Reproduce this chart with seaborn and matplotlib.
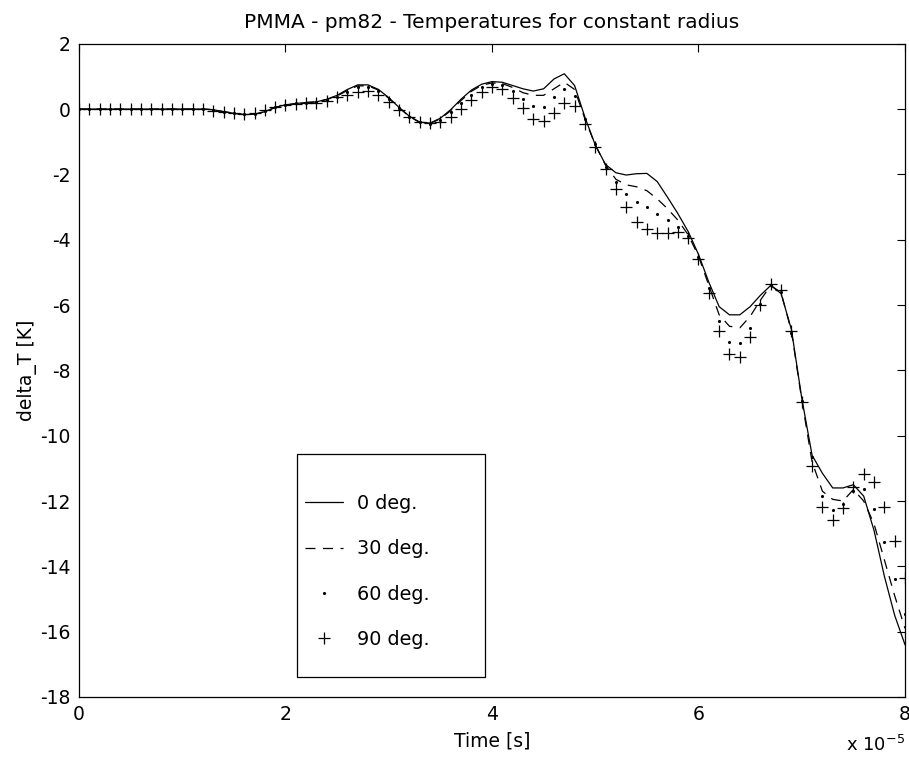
import numpy as np
import pandas as pd
import matplotlib
matplotlib.use("Agg")
import matplotlib.pyplot as plt
from matplotlib.patches import Rectangle
import seaborn as sns

# time samples in units of 1e-5 s
time_e5 = [round(0.1 * i, 1) for i in range(81)]

deg0 = [0.0] * 13 + [
    -0.02, -0.08, -0.13, -0.17, -0.16, -0.08, 0.05, 0.13, 0.17, 0.20,
    0.22, 0.30, 0.42, 0.60, 0.74, 0.74, 0.60, 0.35, 0.05, -0.22,
    -0.40, -0.43, -0.28, -0.02, 0.30, 0.58, 0.76, 0.84, 0.82, 0.72,
    0.62, 0.55, 0.62, 0.92, 1.08, 0.72, -0.25, -1.10, -1.70, -1.95,
    -2.02, -1.98, -1.97, -2.22, -2.70, -3.20, -3.75, -4.45, -5.30, -6.05,
    -6.30, -6.30, -6.05, -5.70, -5.40, -5.65, -6.75, -8.85, -10.60, -11.15,
    -11.60, -11.60, -11.50, -11.85, -12.90, -14.30, -15.50, -16.40]

deg30 = [0.0] * 13 + [
    -0.02, -0.08, -0.13, -0.17, -0.16, -0.08, 0.05, 0.12, 0.16, 0.20,
    0.22, 0.29, 0.40, 0.57, 0.71, 0.71, 0.58, 0.33, 0.04, -0.23,
    -0.41, -0.44, -0.30, -0.05, 0.26, 0.54, 0.73, 0.80, 0.78, 0.66,
    0.50, 0.42, 0.42, 0.62, 0.82, 0.60, -0.30, -1.10, -1.72, -2.15,
    -2.32, -2.38, -2.50, -2.75, -3.05, -3.40, -3.85, -4.50, -5.40, -6.30,
    -6.65, -6.70, -6.35, -5.85, -5.40, -5.62, -6.80, -8.90, -10.80, -11.70,
    -11.95, -12.00, -11.65, -12.00, -12.70, -13.80, -14.90, -15.90]

deg60 = [0.0] * 13 + [
    -0.02, -0.08, -0.12, -0.16, -0.14, -0.06, 0.06, 0.13, 0.17, 0.20,
    0.22, 0.28, 0.38, 0.53, 0.66, 0.67, 0.55, 0.30, 0.03, -0.23,
    -0.41, -0.45, -0.33, -0.10, 0.17, 0.43, 0.66, 0.76, 0.73, 0.55,
    0.31, 0.10, 0.07, 0.36, 0.60, 0.40, -0.32, -1.08, -1.77, -2.24,
    -2.60, -2.85, -3.01, -3.20, -3.40, -3.61, -3.90, -4.52, -5.49, -6.50,
    -7.12, -7.17, -6.71, -5.97, -5.38, -5.60, -6.85, -8.95, -10.66, -11.85,
    -12.27, -12.09, -11.68, -11.64, -12.25, -13.26, -14.40, -15.46]

deg90 = [0.0] * 13 + [
    -0.05, -0.10, -0.13, -0.16, -0.13, -0.03, 0.07, 0.12, 0.14, 0.17,
    0.20, 0.25, 0.36, 0.43, 0.53, 0.55, 0.43, 0.22, -0.03, -0.25,
    -0.41, -0.44, -0.40, -0.25, -0.01, 0.28, 0.53, 0.67, 0.60, 0.35,
    0.02, -0.32, -0.37, -0.13, 0.17, 0.09, -0.46, -1.17, -1.85, -2.46,
    -3.01, -3.45, -3.67, -3.81, -3.81, -3.75, -3.96, -4.60, -5.62, -6.78,
    -7.51, -7.58, -6.97, -6.00, -5.35, -5.55, -6.80, -8.98, -10.92, -12.19,
    -12.58, -12.22, -11.56, -11.18, -11.43, -12.19, -13.21, -14.35]

labels = ["0 deg.", "30 deg.", "60 deg.", "90 deg."]

df = pd.DataFrame({"t": time_e5, "0 deg.": deg0, "30 deg.": deg30,
                   "60 deg.": deg60, "90 deg.": deg90})

sns.set_theme(style="white")
plt.rcParams["font.family"] = ["DejaVu Sans"]
plt.rcParams["axes.unicode_minus"] = False
plt.rcParams["text.color"] = "black"
plt.rcParams["axes.labelcolor"] = "black"
plt.rcParams["xtick.color"] = "black"
plt.rcParams["ytick.color"] = "black"
plt.rcParams["xtick.direction"] = "in"
plt.rcParams["ytick.direction"] = "in"

fig = plt.figure(figsize=(9.09, 7.59), dpi=100)
ax = fig.add_axes([0.0869, 0.0817, 0.9087, 0.8607])

styles = {
    "0 deg.": dict(linestyle="-", lw=0.9),
    "30 deg.": dict(linestyle=(0, (8, 6)), lw=0.9),
    "60 deg.": dict(linestyle="none", marker=".", markersize=4.5,
                    markeredgecolor="black", markeredgewidth=0),
    "90 deg.": dict(linestyle="none", marker="+", markersize=8.5,
                    markeredgecolor="black", markeredgewidth=0.9),
}
for name in labels:
    sns.lineplot(data=df, x="t", y=name, ax=ax, color="black", label=name,
                 estimator=None, sort=False, **styles[name])

ax.set_xlim(0, 8)
ax.set_ylim(-18, 2)
ax.set_xticks([0, 2, 4, 6, 8])
ax.set_yticks(np.arange(-18, 3, 2))
ax.tick_params(axis="both", which="both", top=True, right=True, length=6,
               width=0.8, color="black", labelsize=13.5, pad=6)
for s in ax.spines.values():
    s.set_visible(True)
    s.set_color("black")
    s.set_linewidth(0.9)

ax.set_title("PMMA - pm82 - Temperatures for constant radius", fontsize=14.5, pad=11)
ax.set_xlabel("Time [s]", fontsize=13.5, labelpad=5)
ax.set_ylabel("delta_T [K]", fontsize=13.5, labelpad=2)
ax.text(1.0, -0.058, r"x 10$^{-5}$", transform=ax.transAxes, ha="right",
        va="top", fontsize=13)

# legend frame drawn as a box, entries placed inside it
ax.add_patch(Rectangle((0.264, 0.031), 0.2275, 0.341, transform=ax.transAxes,
                       facecolor="white", edgecolor="black", lw=0.9, zorder=5))
leg = ax.legend(loc="upper left", bbox_to_anchor=(0.2736, 0.311), frameon=False,
                fontsize=13.8, borderpad=0, borderaxespad=0, labelspacing=1.38,
                handlelength=2.0, handletextpad=0.7)
leg.set_zorder(6)

fig.savefig("out.png", dpi=100)
